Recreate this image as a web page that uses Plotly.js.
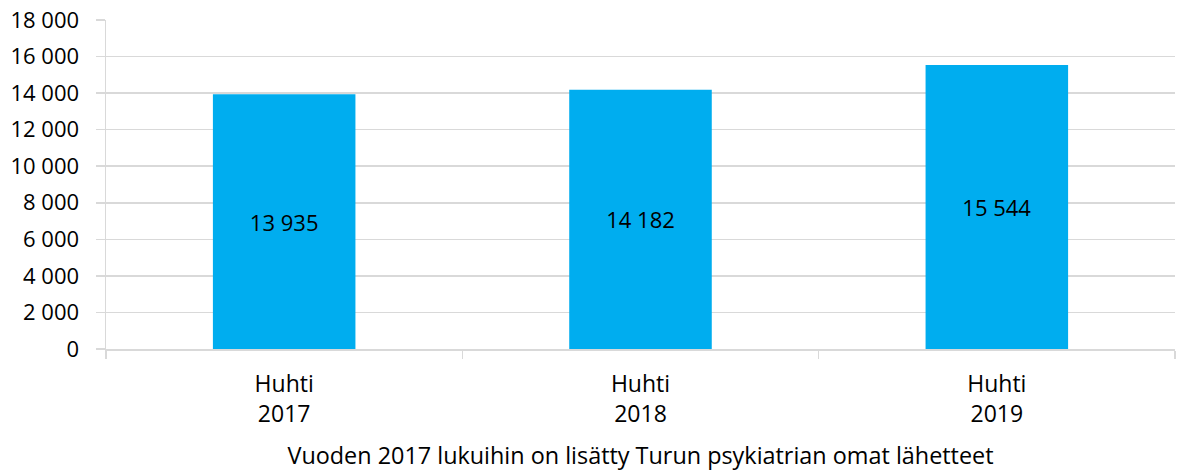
<!DOCTYPE html>
<html>
<head>
<meta charset="utf-8">
<script src="https://cdn.plot.ly/plotly-3.0.1.min.js"></script>
<style>
  html, body { margin: 0; padding: 0; background: #fff; }
  #chart { width: 1177px; height: 471px; }
</style>
</head>
<body>
<div id="chart"></div>
<script>
// Lähetteiden määrä huhtikuussa vuosittain
const categories = ["Huhti<br>2017", "Huhti<br>2018", "Huhti<br>2019"];
const referrals = [13935, 14182, 15544];
const yTicks = [0, 2000, 4000, 6000, 8000, 10000, 12000, 14000, 16000, 18000];
const footnote = "Vuoden 2017 lukuihin on lisätty Turun psykiatrian omat lähetteet";

const fontFamily = "'Open Sans', 'Liberation Sans', sans-serif";
const gridColor = "#d9d9d9";

const trace = {
  type: "bar",
  x: categories,
  y: referrals,
  marker: { color: "#00adef" },
  texttemplate: "%{y:,d}",
  textposition: "inside",
  insidetextanchor: "middle",
  insidetextfont: { family: fontFamily, size: 22, color: "#000" },
  hoverinfo: "skip"
};

const layout = {
  width: 1177,
  height: 471,
  margin: { l: 106, r: 2, t: 20, b: 122 },
  paper_bgcolor: "#fff",
  plot_bgcolor: "#fff",
  separators: ", ",
  showlegend: false,
  bargap: 0.6,
  font: { family: fontFamily, size: 22, color: "#000" },
  xaxis: {
    type: "category",
    showline: true,
    linecolor: gridColor,
    linewidth: 1.5,
    ticks: "outside",
    tickson: "boundaries",
    ticklen: 8,
    tickcolor: gridColor,
    tickwidth: 1.5,
    ticklabelstandoff: 14,
    tickfont: { family: fontFamily, size: 23, color: "#000" },
    automargin: false,
    title: { text: footnote, font: { family: fontFamily, size: 23.4, color: "#000" }, standoff: 21 }
  },
  yaxis: {
    range: [0, 18000],
    tickvals: yTicks,
    tickformat: ",d",
    showline: true,
    linecolor: gridColor,
    linewidth: 1.5,
    showgrid: true,
    gridcolor: gridColor,
    gridwidth: 1.5,
    zeroline: false,
    ticks: "outside",
    ticklen: 9,
    tickcolor: gridColor,
    tickwidth: 1.5,
    ticklabelstandoff: 12,
    automargin: false,
    tickfont: { family: fontFamily, size: 22, color: "#000" }
  }
};

Plotly.newPlot("chart", [trace], layout, { displayModeBar: false, staticPlot: true });
</script>
</body>
</html>
